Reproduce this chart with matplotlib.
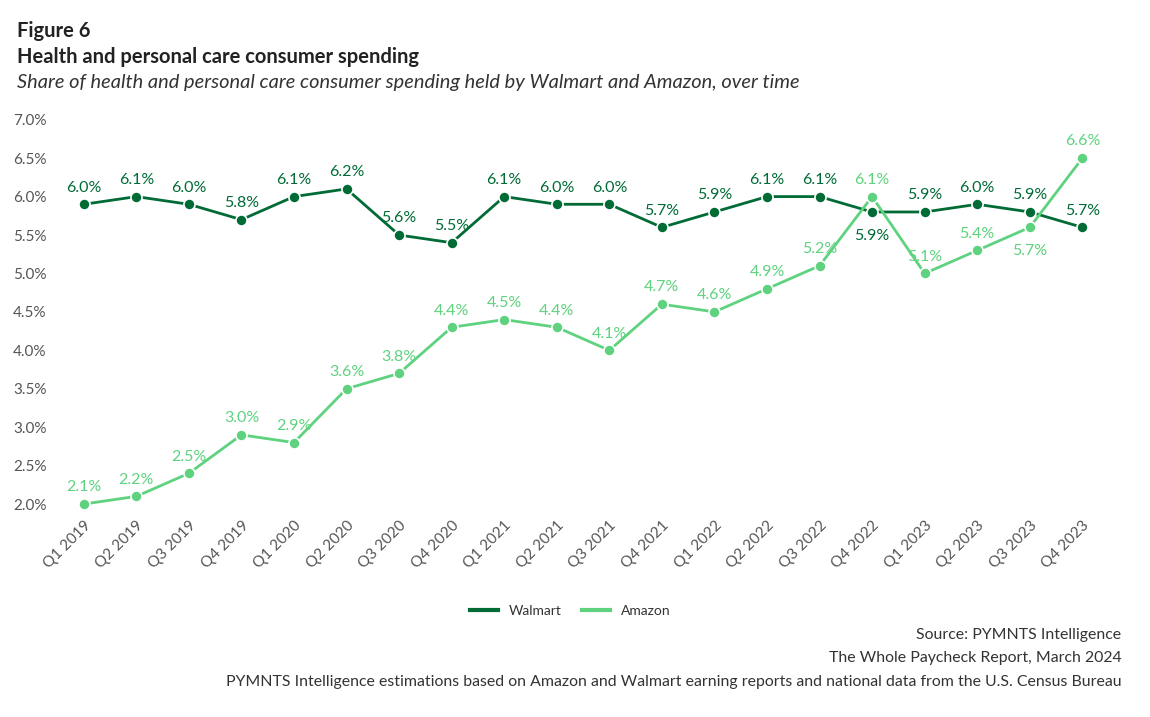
import matplotlib.pyplot as plt

plt.rcParams['font.family'] = ['Lato', 'DejaVu Sans']

quarters = ['Q1 2019', 'Q2 2019', 'Q3 2019', 'Q4 2019', 'Q1 2020', 'Q2 2020',
            'Q3 2020', 'Q4 2020', 'Q1 2021', 'Q2 2021', 'Q3 2021', 'Q4 2021',
            'Q1 2022', 'Q2 2022', 'Q3 2022', 'Q4 2022', 'Q1 2023', 'Q2 2023',
            'Q3 2023', 'Q4 2023']

# point positions as drawn in the reference
walmart = [5.9, 6.0, 5.9, 5.7, 6.0, 6.1, 5.5, 5.4, 6.0, 5.9,
           5.9, 5.6, 5.8, 6.0, 6.0, 5.8, 5.8, 5.9, 5.8, 5.6]
amazon = [2.0, 2.1, 2.4, 2.9, 2.8, 3.5, 3.7, 4.3, 4.4, 4.3,
          4.0, 4.6, 4.5, 4.8, 5.1, 6.0, 5.0, 5.3, 5.6, 6.5]

# printed data labels
walmart_labels = ['6.0%', '6.1%', '6.0%', '5.8%', '6.1%', '6.2%', '5.6%', '5.5%', '6.1%', '6.0%',
                  '6.0%', '5.7%', '5.9%', '6.1%', '6.1%', '5.9%', '5.9%', '6.0%', '5.9%', '5.7%']
amazon_labels = ['2.1%', '2.2%', '2.5%', '3.0%', '2.9%', '3.6%', '3.8%', '4.4%', '4.5%', '4.4%',
                 '4.1%', '4.7%', '4.6%', '4.9%', '5.2%', '6.1%', '5.1%', '5.4%', '5.7%', '6.6%']

yticks = [2.0, 2.5, 3.0, 3.5, 4.0, 4.5, 5.0, 5.5, 6.0, 6.5, 7.0]

walmart_color = '#006b35'
amazon_color = '#5ed27f'

# labels drawn under the point instead of above
below = {('Walmart', 'Q4 2022'), ('Amazon', 'Q3 2023')}

fig = plt.figure(figsize=(11.5, 7.17), dpi=100)
ax = fig.add_axes([0.050, 0.297, 0.914, 0.536])

x = list(range(len(quarters)))
for name, vals, labels, col in [('Walmart', walmart, walmart_labels, walmart_color),
                                ('Amazon', amazon, amazon_labels, amazon_color)]:
    ax.plot(x, vals, color=col, lw=2.0, marker='o', ms=8, mfc=col,
            mec='white', mew=1.2, label=name, clip_on=False)
    for xi, v, lab, q in zip(x, vals, labels, quarters):
        if (name, q) in below:
            ax.annotate(lab, (xi, v), xytext=(0, -12), textcoords='offset points',
                        ha='center', va='top', color=col, fontsize=11.5)
        else:
            ax.annotate(lab, (xi, v), xytext=(0, 7), textcoords='offset points',
                        ha='center', va='bottom', color=col, fontsize=11.5)

ax.set_xlim(-0.5, len(quarters) - 0.5)
ax.set_ylim(2.0, 7.0)
ax.set_yticks(yticks)
ax.set_yticklabels([f'{t:.1f}%' for t in yticks])
ax.set_xticks(x)
ax.set_xticklabels(quarters, rotation=45, ha='right', rotation_mode='anchor')
ax.tick_params(axis='both', length=0, labelsize=11, labelcolor='#555555')
ax.tick_params(axis='y', pad=8)
ax.tick_params(axis='x', pad=10)
for s in ax.spines.values():
    s.set_visible(False)

fig.legend(loc='center', bbox_to_anchor=(0.496, 0.148), ncol=2, frameon=False,
           fontsize=10, handlelength=2.0, columnspacing=1.5)
leg = fig.legends[0]
for h in leg.legend_handles:
    h.set_marker('')
    h.set_linewidth(3)
for t in leg.get_texts():
    t.set_color('#333333')

fig.text(0.015, 0.957, 'Figure 6', fontsize=14.5, fontweight='bold', color='#222222', va='center')
fig.text(0.015, 0.920, 'Health and personal care consumer spending', fontsize=14.5,
         fontweight='bold', color='#222222', va='center')
fig.text(0.015, 0.885, 'Share of health and personal care consumer spending held by Walmart and Amazon, over time',
         fontsize=14.4, style='italic', color='#333333', va='center')

fig.text(0.975, 0.114, 'Source: PYMNTS Intelligence', ha='right', va='center', fontsize=11.4, color='#333333')
fig.text(0.975, 0.082, 'The Whole Paycheck Report, March 2024', ha='right', va='center', fontsize=11.4, color='#333333')
fig.text(0.975, 0.049, 'PYMNTS Intelligence estimations based on Amazon and Walmart earning reports and national data from the U.S. Census Bureau',
         ha='right', va='center', fontsize=11.4, color='#333333')

fig.savefig('out.png', dpi=100)
